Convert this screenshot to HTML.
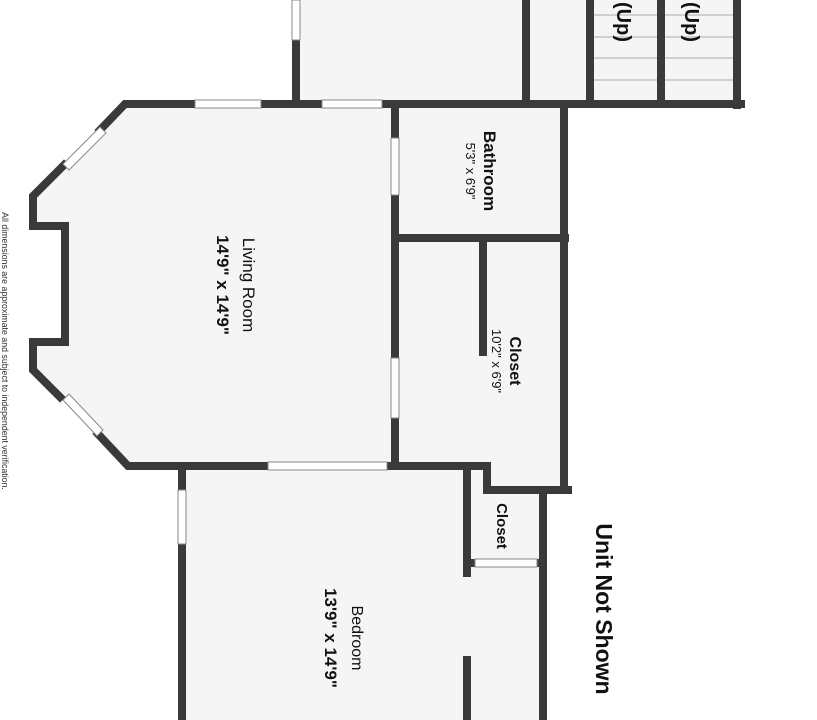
<!DOCTYPE html>
<html><head><style>html,body{margin:0;padding:0;background:#fff}svg{display:block}</style></head><body>
<svg width="817" height="720" viewBox="0 0 817 720" xmlns="http://www.w3.org/2000/svg" font-family="Liberation Sans, DejaVu Sans, sans-serif">
<g fill="#f5f5f5">
<rect x="296" y="0" width="445" height="104"/>
<polygon points="125,104 395,104 395,466 128,466 33,370 33,342 65,342 65,226 33,226 33,196"/>
<rect x="395" y="104" width="170" height="362"/>
<rect x="487" y="466" width="78" height="24"/>
<rect x="182" y="466" width="362" height="254"/>
</g>
<g stroke="#aaa" stroke-width="1">
<line x1="594" y1="15" x2="736" y2="15"/><line x1="594" y1="37" x2="736" y2="37"/><line x1="594" y1="58" x2="736" y2="58"/><line x1="594" y1="80" x2="736" y2="80"/>
</g>
<g stroke="#3a3a3a" stroke-width="8" fill="none" stroke-linecap="square">
<line x1="296" y1="40" x2="296" y2="104"/>
<line x1="526" y1="0" x2="526" y2="104"/>
<line x1="590" y1="0" x2="590" y2="104"/>
<line x1="661" y1="0" x2="661" y2="104"/>
<line x1="737" y1="0" x2="737" y2="105"/>
<line x1="383" y1="104" x2="741" y2="104"/>
<line x1="262" y1="104" x2="321" y2="104"/>
<polyline points="195,104 125,104 100,130"/>
<polyline points="64,165 33,196 33,226 65,226 65,342 33,342 33,370 60,397"/>
<polyline points="98,434 128,466 267,466"/>
<line x1="387" y1="466" x2="487" y2="466"/>
<polyline points="487,466 487,490 568,490"/>
<line x1="395" y1="104" x2="395" y2="137"/>
<line x1="395" y1="196" x2="395" y2="357"/>
<line x1="395" y1="419" x2="395" y2="466"/>
<line x1="395" y1="238" x2="565" y2="238"/>
<line x1="564" y1="104" x2="564" y2="490"/>
<line x1="483" y1="238" x2="483" y2="352"/>
<line x1="182" y1="466" x2="267" y2="466"/>
<line x1="182" y1="466" x2="182" y2="489"/>
<line x1="182" y1="545" x2="182" y2="720"/>
<line x1="467" y1="466" x2="467" y2="573"/>
<line x1="467" y1="660" x2="467" y2="720"/>
<line x1="543" y1="490" x2="543" y2="720"/>
<line x1="470" y1="563" x2="475" y2="563"/>
<line x1="537" y1="563" x2="541" y2="563"/>
</g>
<g stroke="#888" stroke-width="1" fill="#fff">
<rect x="292" y="0" width="8" height="40"/>
<rect x="195" y="100" width="66" height="8"/>
<rect x="322" y="100" width="60" height="8"/>
<rect x="391" y="138" width="8" height="57"/>
<rect x="391" y="358" width="8" height="60"/>
<rect x="268" y="462" width="119" height="8"/>
<rect x="178" y="490" width="8" height="54"/>
<rect x="475" y="559" width="62" height="8"/>
<polygon points="100,127 106,133 69,170 63,164"/>
<polygon points="63,400 69,394 103,430 97,436"/>
</g>
<g fill="#111" text-anchor="middle">
<text transform="translate(243,285) rotate(90)" font-size="17">Living Room</text>
<text transform="translate(217,285) rotate(90)" font-size="17" font-weight="bold">14'9" x 14'9"</text>
<text transform="translate(484,171) rotate(90)" font-size="17" font-weight="bold">Bathroom</text>
<text transform="translate(466,171) rotate(90)" font-size="13">5'3" x 6'9"</text>
<text transform="translate(510,361) rotate(90)" font-size="16" font-weight="bold">Closet</text>
<text transform="translate(492,361) rotate(90)" font-size="13">10'2" x 6'9"</text>
<text transform="translate(497,526) rotate(90)" font-size="15" font-weight="bold">Closet</text>
<text transform="translate(352,638) rotate(90)" font-size="16">Bedroom</text>
<text transform="translate(325,638) rotate(90)" font-size="17" font-weight="bold">13'9" x 14'9"</text>
<text transform="translate(596,609) rotate(90)" font-size="23" font-weight="bold">Unit Not Shown</text>
<text transform="translate(617,22) rotate(90)" font-size="20" font-weight="bold">(Up)</text>
<text transform="translate(685,22) rotate(90)" font-size="20" font-weight="bold">(Up)</text>
<text transform="translate(2,351) rotate(90)" font-size="8.8" fill="#333">All dimensions are approximate and subject to independent verification.</text>
</g>
</svg>
</body></html>
